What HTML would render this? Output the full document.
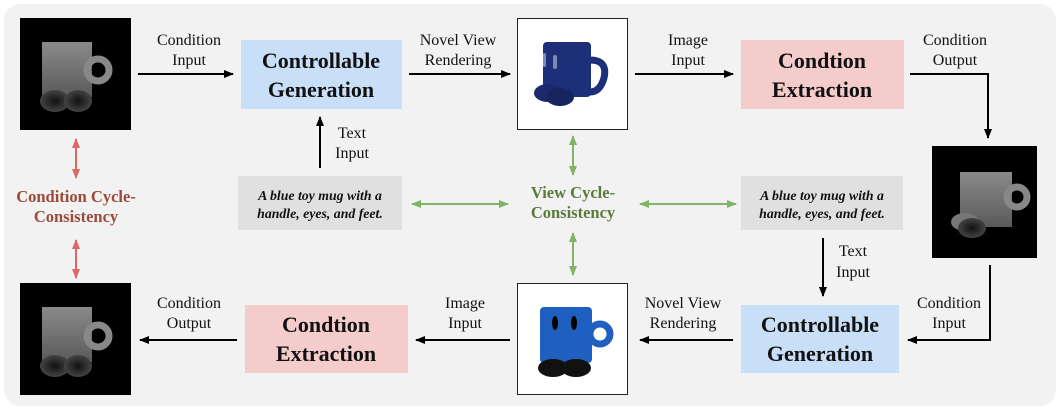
<!DOCTYPE html>
<html><head><meta charset="utf-8"><style>
html,body{margin:0;padding:0;background:#fff;}
svg{display:block;}
text{font-family:"Liberation Serif",serif;}
.l{font-size:16px;fill:#111;text-anchor:middle;}
.b{font-size:22px;font-weight:bold;fill:#111;text-anchor:middle;}
.t{font-size:13.8px;font-weight:bold;font-style:italic;fill:#111;text-anchor:middle;}
</style></head><body>
<svg width="1060" height="410" viewBox="0 0 1060 410" xmlns="http://www.w3.org/2000/svg">
<defs>
<marker id="a" markerWidth="10" markerHeight="8" refX="9" refY="4" orient="auto" markerUnits="userSpaceOnUse"><path d="M0,0 L10,4 L0,8z" fill="#000"/></marker>
<marker id="r" markerWidth="10" markerHeight="8" refX="9" refY="4" orient="auto-start-reverse" markerUnits="userSpaceOnUse"><path d="M0,0 L10,4 L0,8z" fill="#e06666"/></marker>
<marker id="g" markerWidth="10" markerHeight="8" refX="9" refY="4" orient="auto-start-reverse" markerUnits="userSpaceOnUse"><path d="M0,0 L10,4 L0,8z" fill="#82b366"/></marker>
<linearGradient id="dg" x1="0" y1="0" x2="0" y2="1"><stop offset="0" stop-color="#8a8a8a"/><stop offset="1" stop-color="#5a5a5a"/></linearGradient>
<radialGradient id="ft"><stop offset="0" stop-color="#111"/><stop offset="1" stop-color="#444"/></radialGradient>
</defs>
<rect x="4" y="4" width="1052" height="402" rx="16" fill="#f2f2f2"/>

<rect x="20" y="18" width="111" height="112" fill="#000"/>
<rect x="42" y="42" width="50" height="55" fill="url(#dg)"/>
<circle cx="98" cy="70" r="11" fill="none" stroke="#888" stroke-width="7"/>
<ellipse cx="55" cy="101" rx="15" ry="11" fill="url(#ft)"/>
<ellipse cx="78" cy="101" rx="14" ry="11" fill="url(#ft)"/>

<rect x="20" y="283" width="111" height="112" fill="#000"/>
<rect x="42" y="307" width="50" height="55" fill="url(#dg)"/>
<circle cx="98" cy="336" r="11" fill="none" stroke="#888" stroke-width="7"/>
<ellipse cx="55" cy="366" rx="15" ry="11" fill="url(#ft)"/>
<ellipse cx="78" cy="366" rx="14" ry="11" fill="url(#ft)"/>

<rect x="932" y="146" width="105" height="112" fill="#000"/>
<rect x="960" y="172" width="52" height="55" fill="url(#dg)"/>
<circle cx="1017" cy="197" r="10" fill="none" stroke="#888" stroke-width="7"/>
<ellipse cx="965" cy="222" rx="14" ry="9" fill="#777"/>
<ellipse cx="972" cy="228" rx="14" ry="10" fill="url(#ft)"/>

<rect x="517.5" y="18.5" width="110" height="111" fill="#fff" stroke="#222"/>
<rect x="543" y="42" width="48" height="55" rx="4" fill="#1e2f7a"/>
<path d="M590,60 q18,0 14,18 q-4,14 -14,14" fill="none" stroke="#1e2f7a" stroke-width="7"/>
<rect x="543" y="53" width="3" height="14" rx="1.5" fill="#7b8ab8"/>
<rect x="553" y="55" width="4" height="14" rx="2" fill="#7b8ab8"/>
<ellipse cx="548" cy="93" rx="14" ry="9" fill="#1a2a6e"/>
<ellipse cx="560" cy="97" rx="14" ry="9" fill="#162460"/>

<rect x="517.5" y="283.5" width="110" height="111" fill="#fff" stroke="#222"/>
<rect x="540" y="307" width="52" height="56" rx="4" fill="#1f5fbf"/>
<circle cx="600" cy="334" r="10" fill="none" stroke="#1f5fbf" stroke-width="7"/>
<ellipse cx="555" cy="323" rx="3" ry="7" fill="#000"/>
<ellipse cx="574" cy="323" rx="3" ry="7" fill="#000"/>
<ellipse cx="553" cy="368" rx="15" ry="9" fill="#111"/>
<ellipse cx="576" cy="368" rx="15" ry="9" fill="#111"/>

<rect x="241" y="40" width="161" height="69" fill="#c9dff8"/>
<text class="b" x="321" y="68">Controllable</text><text class="b" x="321" y="97">Generation</text>
<rect x="741" y="40" width="163" height="69" fill="#f4cccc"/>
<text class="b" x="822" y="68">Condtion</text><text class="b" x="822" y="97">Extraction</text>
<rect x="741" y="305" width="158" height="68" fill="#c9dff8"/>
<text class="b" x="820" y="332">Controllable</text><text class="b" x="820" y="361">Generation</text>
<rect x="245" y="305" width="163" height="68" fill="#f4cccc"/>
<text class="b" x="326" y="332">Condtion</text><text class="b" x="326" y="361">Extraction</text>

<rect x="238" y="176" width="164" height="54" fill="#e0e0e0"/>
<text class="t" x="320" y="200">A blue toy mug with a</text><text class="t" x="320" y="218">handle, eyes, and feet.</text>
<rect x="741" y="176" width="162" height="54" fill="#e0e0e0"/>
<text class="t" x="822" y="200">A blue toy mug with a</text><text class="t" x="822" y="218">handle, eyes, and feet.</text>

<g stroke="#000" stroke-width="2" fill="none">
<line x1="138" y1="74" x2="233" y2="74" marker-end="url(#a)"/>
<line x1="409" y1="74" x2="510" y2="74" marker-end="url(#a)"/>
<line x1="635" y1="74" x2="733" y2="74" marker-end="url(#a)"/>
<polyline points="910,74 988,74 988,138" marker-end="url(#a)"/>
<polyline points="990,265 990,340 908,340" marker-end="url(#a)"/>
<line x1="733" y1="340" x2="640" y2="340" marker-end="url(#a)"/>
<line x1="510" y1="340" x2="416" y2="340" marker-end="url(#a)"/>
<line x1="237" y1="340" x2="140" y2="340" marker-end="url(#a)"/>
<line x1="320" y1="168" x2="320" y2="117" marker-end="url(#a)"/>
<line x1="823" y1="238" x2="823" y2="296" marker-end="url(#a)"/>
</g>
<text class="l" x="189" y="45">Condition</text><text class="l" x="189" y="65">Input</text>
<text class="l" x="458" y="45">Novel View</text><text class="l" x="458" y="65">Rendering</text>
<text class="l" x="688" y="45">Image</text><text class="l" x="688" y="65">Input</text>
<text class="l" x="955" y="45">Condition</text><text class="l" x="955" y="65">Output</text>
<text class="l" x="352" y="138">Text</text><text class="l" x="352" y="158">Input</text>
<text class="l" x="853" y="256">Text</text><text class="l" x="853" y="277">Input</text>
<text class="l" x="949" y="308">Condition</text><text class="l" x="949" y="328">Input</text>
<text class="l" x="683" y="308">Novel View</text><text class="l" x="683" y="328">Rendering</text>
<text class="l" x="465" y="308">Image</text><text class="l" x="465" y="328">Input</text>
<text class="l" x="189" y="308">Condition</text><text class="l" x="189" y="328">Output</text>

<g stroke="#e06666" stroke-width="2">
<line x1="76" y1="139" x2="76" y2="178" marker-start="url(#r)" marker-end="url(#r)"/>
<line x1="76" y1="240" x2="76" y2="278" marker-start="url(#r)" marker-end="url(#r)"/>
</g>
<text x="76" y="202" style="font-size:16.5px;font-weight:bold;fill:#9c4a3a;text-anchor:middle">Condition Cycle-</text>
<text x="76" y="222" style="font-size:16.5px;font-weight:bold;fill:#9c4a3a;text-anchor:middle">Consistency</text>

<g stroke="#82b366" stroke-width="2">
<line x1="573" y1="136" x2="573" y2="175" marker-start="url(#g)" marker-end="url(#g)"/>
<line x1="573" y1="233" x2="573" y2="275" marker-start="url(#g)" marker-end="url(#g)"/>
<line x1="412" y1="204" x2="508" y2="204" marker-start="url(#g)" marker-end="url(#g)"/>
<line x1="640" y1="204" x2="736" y2="204" marker-start="url(#g)" marker-end="url(#g)"/>
</g>
<text x="573" y="198" style="font-size:16.5px;font-weight:bold;fill:#5a7a3a;text-anchor:middle">View Cycle-</text>
<text x="573" y="218" style="font-size:16.5px;font-weight:bold;fill:#5a7a3a;text-anchor:middle">Consistency</text>
</svg>
</body></html>
